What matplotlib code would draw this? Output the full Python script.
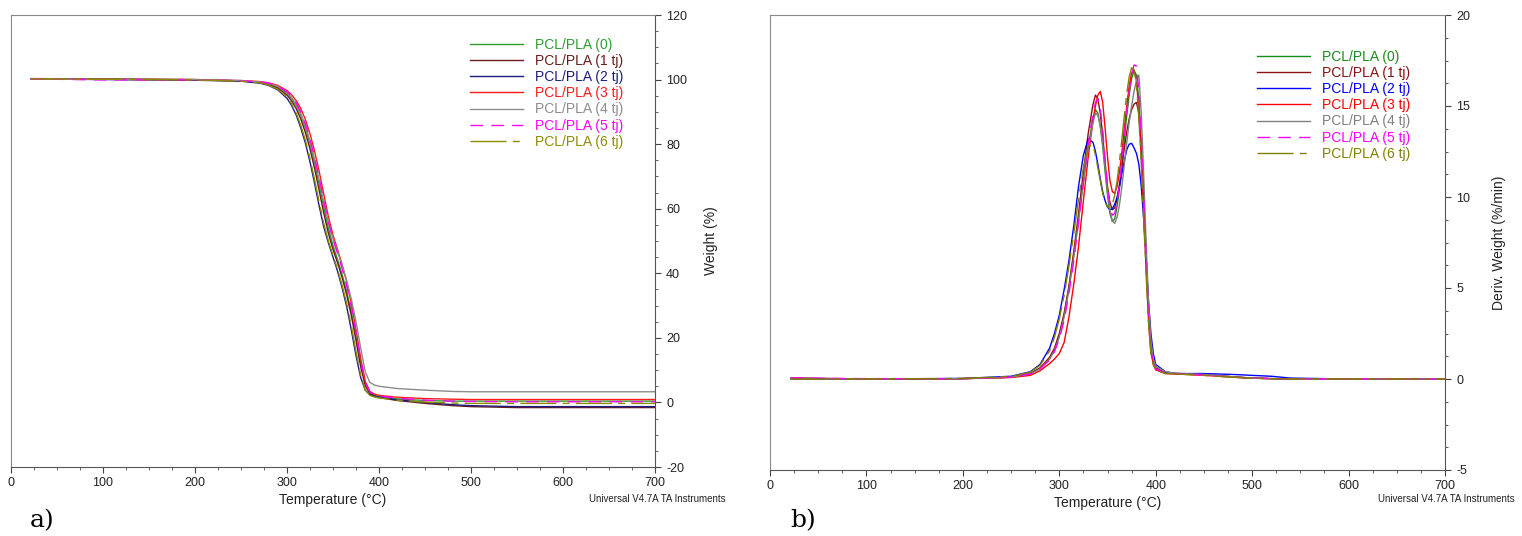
import matplotlib
matplotlib.use("Agg")
from matplotlib import pyplot as plt
from matplotlib.ticker import MultipleLocator

plt.rcParams['font.family'] = ['Liberation Sans', 'DejaVu Sans']
plt.rcParams['axes.unicode_minus'] = False

labels = ["PCL/PLA (0)", "PCL/PLA (1 tj)", "PCL/PLA (2 tj)", "PCL/PLA (3 tj)",
          "PCL/PLA (4 tj)", "PCL/PLA (5 tj)", "PCL/PLA (6 tj)"]

# TGA (weight %) read off panel a)
tga_temp = [22, 100, 200, 250, 270, 280, 290, 300, 305, 310, 315, 320, 325, 330, 335,
            340, 345, 350, 355, 360, 365, 370, 375, 380, 385, 390, 395, 400, 420, 450,
            480, 500, 550, 600, 700]
tga_0 = [100.2, 100.1, 99.9, 99.6, 99.2, 98.7, 97.7, 95.8, 94.2, 92.0, 89.0, 85.0, 80.2,
         74.3, 67.6, 60.5, 54.0, 48.6, 44.2, 39.5, 34.2, 27.8, 20.3, 12.4, 6.0, 3.0, 2.2,
         1.8, 1.1, 0.6, 0.4, 0.4, 0.4, 0.4, 0.4]
tga_1 = [100.3, 100.2, 100.0, 99.6, 99.1, 98.5, 97.4, 95.2, 93.4, 91.0, 87.8, 83.6, 78.5,
         72.5, 65.6, 58.6, 52.4, 47.4, 43.2, 38.6, 33.2, 26.8, 19.2, 11.2, 5.2, 2.8, 2.0,
         1.5, 0.6, -0.3, -1.0, -1.3, -1.6, -1.6, -1.6]
tga_2 = [100.2, 100.0, 99.8, 99.5, 98.9, 98.2, 96.8, 94.2, 92.0, 89.0, 85.0, 80.3, 74.5,
         67.8, 60.8, 54.3, 49.4, 45.0, 40.6, 35.4, 29.5, 22.3, 14.5, 7.8, 3.8, 2.4, 2.0,
         1.6, 0.8, 0.0, -0.7, -1.0, -1.3, -1.3, -1.3]
tga_3 = [100.2, 100.1, 100.0, 99.7, 99.4, 99.0, 98.2, 96.6, 95.3, 93.5, 91.0, 87.6, 83.2,
         77.8, 71.5, 64.5, 57.5, 51.8, 47.3, 42.6, 37.2, 30.6, 22.6, 13.8, 6.6, 3.4, 2.6,
         2.2, 1.6, 1.2, 1.0, 0.9, 0.9, 0.9, 0.9]
tga_4 = [100.2, 100.1, 100.0, 99.7, 99.3, 98.8, 97.9, 96.0, 94.5, 92.4, 89.5, 85.7, 81.0,
         75.3, 68.9, 62.1, 55.8, 50.7, 46.6, 42.3, 37.6, 31.9, 25.0, 17.0, 9.6, 6.2, 5.4,
         5.0, 4.3, 3.8, 3.4, 3.3, 3.3, 3.3, 3.3]
tga_5 = [100.2, 99.9, 99.9, 99.6, 99.3, 98.9, 98.0, 96.2, 94.8, 92.8, 90.0, 86.3, 81.7,
         76.0, 69.5, 62.5, 56.0, 50.6, 46.1, 41.4, 36.0, 29.5, 21.8, 13.2, 6.4, 3.2, 2.4,
         2.0, 1.3, 0.7, 0.4, 0.3, 0.2, 0.2, 0.2]
tga_6 = [100.2, 100.1, 99.9, 99.5, 99.0, 98.3, 97.0, 94.6, 92.5, 89.6, 85.8, 81.2, 75.6,
         69.0, 62.0, 55.4, 50.0, 45.5, 41.2, 36.2, 30.5, 23.6, 15.8, 8.6, 3.9, 2.2, 1.7,
         1.4, 0.7, 0.1, -0.2, -0.3, -0.3, -0.3, -0.3]

# DTG (deriv. weight %/min) read off panel b)
dtg_temp = [22, 100, 200, 250, 270, 280, 290, 295, 300, 305, 310, 315, 320, 325, 330, 335,
            337.5, 340, 342.5, 345, 347.5, 350, 352.5, 355, 357.5, 360, 362.5, 365, 367.5,
            370, 372.5, 375, 377.5, 380, 382.5, 385, 387.5, 390, 392.5, 395, 397.5, 400,
            410, 420, 450, 480, 500, 520, 540, 600, 700]
dtg_0 = [0.0, 0.0, 0.02, 0.1, 0.3, 0.6, 1.1, 1.6, 2.4, 3.5, 5.0, 6.8, 8.8, 10.9, 12.8, 14.3,
         14.8, 14.6, 13.9, 12.8, 11.4, 10.1, 9.1, 8.65, 8.8, 9.5, 10.5, 11.8, 13.2, 14.5,
         15.6, 16.5, 16.95, 16.7, 15.3, 12.9, 9.9, 6.7, 3.6, 1.7, 0.9, 0.6, 0.35, 0.3, 0.25,
         0.12, 0.05, 0.02, 0.0, 0.0, 0.0]
dtg_1 = [0.0, 0.0, 0.02, 0.1, 0.3, 0.6, 1.2, 1.7, 2.5, 3.6, 5.1, 7.0, 9.1, 11.4, 13.5, 15.1,
         15.6, 15.4, 14.6, 13.4, 11.9, 10.6, 9.7, 9.3, 9.4, 9.9, 10.7, 11.7, 12.7, 13.6,
         14.3, 14.8, 15.1, 15.2, 14.6, 12.6, 9.8, 6.8, 3.8, 1.8, 0.9, 0.6, 0.35, 0.3, 0.25,
         0.12, 0.05, 0.02, 0.0, 0.0, 0.0]
dtg_2 = [0.05, 0.0, 0.03, 0.15, 0.4, 0.8, 1.7, 2.5, 3.5, 4.9, 6.5, 8.4, 10.6, 12.3, 13.2,
         13.0, 12.5, 11.8, 11.0, 10.3, 9.8, 9.45, 9.3, 9.35, 9.6, 10.0, 10.6, 11.3, 12.0,
         12.6, 12.9, 12.95, 12.7, 12.4, 11.8, 10.6, 8.8, 6.6, 4.3, 2.5, 1.4, 0.8, 0.4, 0.3,
         0.3, 0.25, 0.2, 0.15, 0.05, 0.0, 0.0]
dtg_3 = [0.05, 0.0, 0.02, 0.08, 0.2, 0.45, 0.85, 1.1, 1.4, 2.0, 3.4, 5.2, 7.3, 9.8, 12.2,
         14.2, 15.0, 15.6, 15.8, 15.2, 13.8, 12.2, 10.9, 10.3, 10.2, 10.6, 11.4, 12.5, 13.8,
         15.0, 16.1, 16.8, 17.0, 16.4, 14.8, 12.4, 9.4, 6.2, 3.3, 1.5, 0.8, 0.5, 0.3, 0.28,
         0.2, 0.1, 0.05, 0.02, 0.0, 0.0, 0.0]
dtg_4 = [0.0, 0.0, 0.02, 0.1, 0.28, 0.55, 1.1, 1.55, 2.3, 3.4, 4.9, 6.7, 8.7, 10.8, 12.7,
         14.1, 14.6, 14.5, 13.9, 12.9, 11.6, 10.3, 9.3, 8.7, 8.55, 8.9, 9.6, 10.6, 11.8,
         13.0, 14.1, 15.0, 15.8, 16.4, 16.7, 14.6, 11.2, 7.6, 4.3, 2.1, 1.1, 0.7, 0.4, 0.32,
         0.25, 0.12, 0.05, 0.02, 0.0, 0.0, 0.0]
dtg_5 = [0.05, 0.02, 0.02, 0.1, 0.28, 0.55, 1.05, 1.5, 2.2, 3.2, 4.7, 6.5, 8.6, 10.8, 12.9,
         14.6, 15.2, 15.4, 14.9, 13.7, 12.1, 10.6, 9.5, 9.0, 9.1, 9.7, 10.7, 12.0, 13.4,
         14.7, 15.8, 16.7, 17.25, 17.2, 15.8, 13.2, 10.0, 6.7, 3.6, 1.6, 0.9, 0.55, 0.33,
         0.3, 0.22, 0.1, 0.05, 0.02, 0.0, 0.0, 0.0]
dtg_6 = [0.0, 0.0, 0.03, 0.14, 0.38, 0.75, 1.55, 2.3, 3.3, 4.6, 6.2, 8.0, 9.9, 11.6, 12.8,
         12.85, 12.3, 11.6, 10.9, 10.2, 9.7, 9.45, 9.4, 9.6, 10.1, 10.9, 12.0, 13.2, 14.5,
         15.7, 16.6, 17.1, 17.0, 16.2, 14.4, 11.8, 8.8, 5.8, 3.1, 1.4, 0.8, 0.5, 0.3, 0.28,
         0.2, 0.1, 0.04, 0.02, 0.0, 0.0, 0.0]

tga_colors = ["#2e9e2e", "#6b1c1c", "#1c1c80", "#ff1a1a", "#8c8c8c", "#ff00ff", "#8c8c00"]
dtg_colors = ["#1a8c1a", "#8b1010", "#0000ff", "#ff0000", "#808080", "#ff00ff", "#808000"]
styles = ["-", "-", "-", "-", "-", (0, (9, 6)), (0, (26, 4.5, 5, 4.5))]

fig = plt.figure(figsize=(15.22, 5.36), dpi=100)
ax1 = fig.add_axes([11/1522, 1-467/536, 644/1522, 452/536])
ax2 = fig.add_axes([770/1522, 1-470/536, 675/1522, 455/536])

tga = [tga_0, tga_1, tga_2, tga_3, tga_4, tga_5, tga_6]
dtg = [dtg_0, dtg_1, dtg_2, dtg_3, dtg_4, dtg_5, dtg_6]
for i in range(7):
    ax1.plot(tga_temp, tga[i], color=tga_colors[i], linestyle=styles[i], lw=1.0, label=labels[i])
    ax2.plot(dtg_temp, dtg[i], color=dtg_colors[i], linestyle=styles[i], lw=1.0, label=labels[i])

def style_axes(ax, ymin, ymax, ymaj, ymin_step, ylabel, ylabelpad):
    ax.set_xlim(0, 700)
    ax.set_ylim(ymin, ymax)
    ax.xaxis.set_major_locator(MultipleLocator(100))
    ax.xaxis.set_minor_locator(MultipleLocator(25))
    ax.yaxis.set_major_locator(MultipleLocator(ymaj))
    ax.yaxis.set_minor_locator(MultipleLocator(ymin_step))
    ax.yaxis.tick_right()
    ax.yaxis.set_label_position("right")
    ax.tick_params(which='both', direction='out', colors='#444444', labelcolor='#222222',
                   labelsize=9)
    ax.tick_params(which='major', length=4)
    ax.tick_params(which='minor', length=2.5)
    ax.tick_params(axis='y', pad=4)
    ax.tick_params(axis='x', pad=3)
    for s in ['top', 'left']:
        ax.spines[s].set_color('#8a8a8a')
    for s in ['bottom', 'right']:
        ax.spines[s].set_color('#555555')
    ax.set_xlabel("Temperature (°C)", fontsize=10, color='#222222', labelpad=3)
    ax.set_ylabel(ylabel, fontsize=10, color='#222222', labelpad=ylabelpad)
    ax.legend(loc='upper left', frameon=False, fontsize=10, labelcolor='linecolor',
              handlelength=3.8, handletextpad=0.85, labelspacing=0.16, borderpad=0,
              borderaxespad=0)

style_axes(ax1, -20, 120, 20, 5, "Weight (%)", 12)
style_axes(ax2, -5, 20, 5, 1.25, "Deriv. Weight (%/min)", 16)
ax1.get_legend().set_bbox_to_anchor((0.713, 0.95), transform=ax1.transAxes)
ax2.get_legend().set_bbox_to_anchor((0.7215, 0.924), transform=ax2.transAxes)

fig.text(726/1522, 1-499/536, "Universal V4.7A TA Instruments", fontsize=7,
         ha='right', va='center', color='#222222')
fig.text(1515/1522, 1-499/536, "Universal V4.7A TA Instruments", fontsize=7,
         ha='right', va='center', color='#222222')
fig.text(30/1522, 1-521/536, "a)", fontsize=18, family='DejaVu Serif', ha='left', va='center')
fig.text(790/1522, 1-521/536, "b)", fontsize=18, family='DejaVu Serif', ha='left', va='center')

fig.savefig("out.png", dpi=100)
